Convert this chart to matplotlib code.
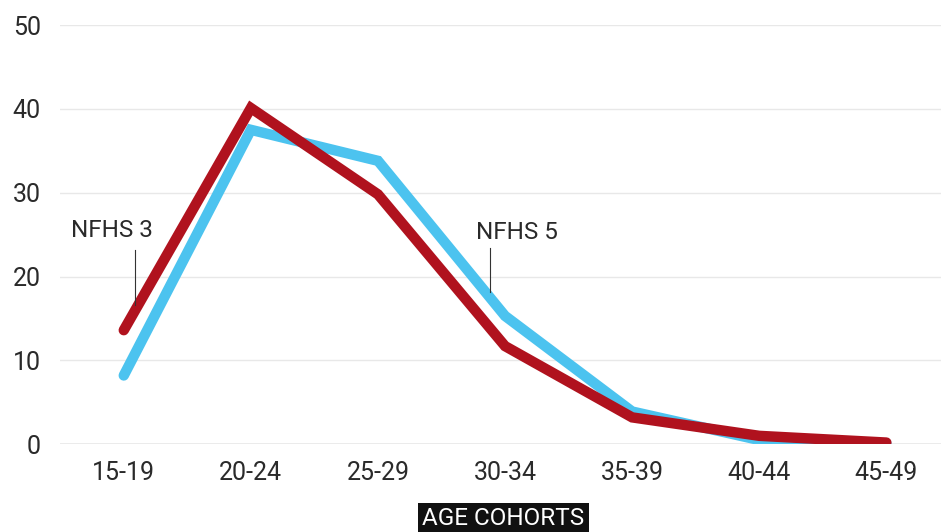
import matplotlib.pyplot as plt
import numpy as np

cohorts = ['15-19', '20-24', '25-29', '30-34', '35-39', '40-44', '45-49']
nfhs5 = [8.2, 37.5, 33.8, 15.3, 3.9, 0.5, 0.1]
nfhs3 = [13.6, 40.1, 29.8, 11.7, 3.2, 1.0, 0.2]
yticks = [0, 10, 20, 30, 40, 50]

plt.rcParams['font.family'] = ['Roboto', 'DejaVu Sans']

fig = plt.figure(figsize=(9.41, 5.32), dpi=100)
ax = fig.add_axes([0.064, 0.165, 0.936, 0.788])

x = np.arange(len(cohorts))
ax.plot(x, nfhs5, color='#4cc3ef', lw=7.5, solid_capstyle='round', solid_joinstyle='miter', zorder=3)
ax.plot(x, nfhs3, color='#b0121e', lw=7.5, solid_capstyle='round', solid_joinstyle='miter', zorder=4)

ax.set_xlim(-0.5, 6.43)
ax.set_ylim(0, 50)
ax.set_yticks(yticks)
ax.set_xticks(x)
ax.set_xticklabels(cohorts)
for y in yticks[1:]:
    ax.axhline(y, color='#e8e8e8', lw=1, zorder=1)
ax.axhline(0, color='#9a9a9a', lw=1, zorder=2)
for s in ax.spines.values():
    s.set_visible(False)
ax.tick_params(length=0, labelsize=18, colors='#2a2a2a')
ax.tick_params(axis='x', pad=12)
ax.tick_params(axis='y', pad=14)

# labels with leader lines
ax.text(-0.09, 25.5, 'NFHS 3', fontsize=17.5, ha='center', va='center', color='#2a2a2a')
ax.plot([0.087, 0.087], [23.2, 16.6], color='#333333', lw=0.8, zorder=5)
ax.text(3.09, 25.3, 'NFHS 5', fontsize=17.5, ha='center', va='center', color='#2a2a2a')
ax.plot([2.88, 2.88], [23.4, 18.1], color='#333333', lw=0.8, zorder=5)

fig.text(0.535, 0.025, 'AGE COHORTS', fontsize=17.5, ha='center', va='center', color='white',
         bbox=dict(facecolor='#111111', edgecolor='none', pad=3))

fig.savefig('out.png', dpi=100, facecolor='white')
